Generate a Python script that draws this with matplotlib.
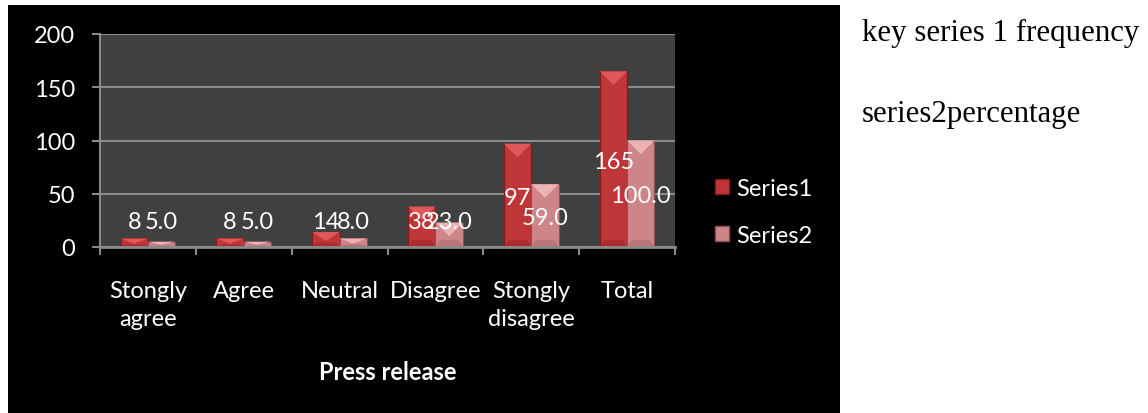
import matplotlib
matplotlib.use("Agg")
import matplotlib.pyplot as plt
from matplotlib.patches import Rectangle, Polygon, Patch
import numpy as np

categories = ["Stongly\nagree", "Agree", "Neutral", "Disagree", "Stongly\ndisagree", "Total"]
series1 = [8, 8, 14, 38, 97, 165]
series2 = [5.0, 5.0, 8.0, 23.0, 59.0, 100.0]
series_names = ["Series1", "Series2"]
y_ticks = [0, 50, 100, 150, 200]
x_title = "Press release"
side_notes = ["key series 1 frequency", "series2percentage"]

W, H, DPI = 1148, 414, 100
fig = plt.figure(figsize=(W / DPI, H / DPI), dpi=DPI, facecolor="white")

# black chart frame
fig.patches.append(Rectangle((8 / W, 0), 832 / W, 408 / H, transform=fig.transFigure,
                             facecolor="black", edgecolor="none", zorder=-5))

ax = fig.add_axes([100 / W, (H - 248) / H, 575 / W, 213 / H])
ax.set_facecolor("#404040")
font = "Lato"
fs = 17

x = np.arange(len(categories))
bw = 0.285
styles = [
    dict(face="#BE3638", edge="#7E1A1C", light="#E2585A", dark="#9C2426"),
    dict(face="#CE8587", edge="#8E5052", light="#EDB2B3", dark="#A86668"),
]

ax.set_xlim(-0.5, len(categories) - 0.5)
ax.set_ylim(0, 200)

# pixels per data unit, used for the bevel shape
px_per_x = (575 / len(categories))
px_per_y = 213 / 200

for k, (vals, st) in enumerate(zip([series1, series2], styles)):
    xs = x - bw / 2 + k * bw
    bars = ax.bar(xs, vals, width=bw, color=st["face"], edgecolor=st["edge"],
                  linewidth=0.8, zorder=3, label=series_names[k])
    for b, v in zip(bars, vals):
        x0 = b.get_x()
        x1 = x0 + b.get_width()
        xc = (x0 + x1) / 2
        depth = min(b.get_width() * px_per_x / 2 / px_per_y, v * 0.6)
        # lighter top bevel
        ax.add_patch(Polygon([(x0, v), (x1, v), (xc, v - depth)], closed=True,
                             facecolor=st["light"], edgecolor="none", zorder=4))
        # darker bottom bevel
        bdepth = min(b.get_width() * px_per_x / 2 / px_per_y * 0.5, v * 0.3)
        ax.add_patch(Polygon([(x0, 0), (x1, 0), (x1 - 0.15 * bw, bdepth), (x0 + 0.15 * bw, bdepth)],
                             closed=True, facecolor=st["dark"], edgecolor="none", alpha=0.5, zorder=4))
        txt = f"{v:.0f}" if k == 0 else f"{v:.1f}"
        ax.text(xc, max(v / 2 - 2, 23.5), txt, ha="center", va="center", color="white",
                fontsize=fs, family=font, zorder=6)

# axes styling
for s in ["top", "right", "bottom"]:
    ax.spines[s].set_visible(False)
ax.spines["left"].set_color("#8a8a8a")
ax.spines["left"].set_linewidth(1.5)
ax.set_yticks(y_ticks)
ax.set_yticklabels([str(t) for t in y_ticks], family=font, fontsize=fs, color="white")
ax.tick_params(axis="y", length=6, width=1.5, color="#8a8a8a", pad=12)
ax.grid(axis="y", color="#8a8a8a", linewidth=1.5, zorder=1)
ax.set_axisbelow(True)
ax.axhline(0, color="#8a8a8a", linewidth=2, zorder=5, clip_on=False)

ax.set_xticks(x)
ax.set_xticklabels(categories, family=font, fontsize=fs, color="white", linespacing=1.4)
ax.tick_params(axis="x", length=0, pad=24)
ax.set_xticks(np.arange(-0.5, len(categories)), minor=True)
ax.tick_params(axis="x", which="minor", length=6, width=1.5, color="#8a8a8a")
ax.set_xlabel(x_title, family=font, fontsize=fs, color="white", fontweight="bold", labelpad=22)

# legend
handles = [Patch(facecolor=st["face"], edgecolor=st["edge"]) for st in styles]
fig.legend(handles, series_names, loc="center left", bbox_to_anchor=(694 / W, 1 - 213 / H),
           frameon=False, prop=dict(family=font, size=fs), labelcolor="white",
           handlelength=0.6, handleheight=0.6, handletextpad=0.3, labelspacing=1.1)

# notes to the right of the chart
fig.text(862 / W, 1 - 41 / H, side_notes[0], family="Liberation Serif", fontsize=22.2,
         color="black", ha="left", va="baseline")
fig.text(862 / W, 1 - 122 / H, side_notes[1], family="Liberation Serif", fontsize=22.2,
         color="black", ha="left", va="baseline")

fig.savefig("out.png", dpi=DPI, facecolor="white")
